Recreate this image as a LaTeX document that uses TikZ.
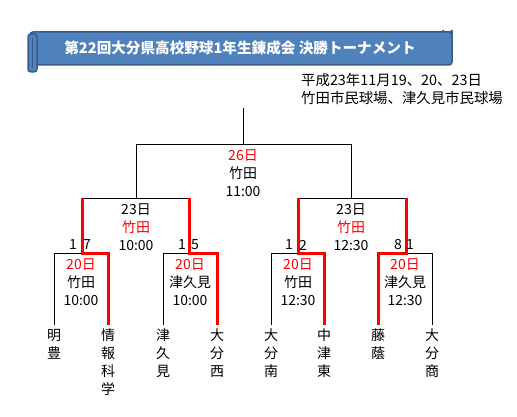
\documentclass[tikz,border=0pt]{standalone}
\usepackage{fontspec}
\setmainfont{Noto Sans CJK JP}
\usetikzlibrary{positioning}
\definecolor{bannerblue}{HTML}{4F81BD}
\definecolor{bannerline}{HTML}{385D8A}

\begin{document}
\begin{tikzpicture}[x=1pt, y=-1pt,
    banner/.style={fill=bannerblue, draw=bannerline, line width=1.5pt, rounded corners=3pt},
    lose/.style={draw, line width=0.8pt},
    win/.style={draw=red, line width=3pt},
    info/.style={align=center, inner sep=0pt, font=\fontsize{14}{18}\selectfont},
    team/.style={anchor=north, align=center, inner sep=2pt, outer sep=2pt, font=\fontsize{14}{18}\selectfont},
    score/.style={inner sep=0pt, font=\fontsize{14}{18}\selectfont}
  ]
    \fill[white] (0,0) rectangle (517,417);
    \useasboundingbox (0,0) rectangle (517,417);
    % title scroll
    \draw[banner] (443,40) -- (443,28) arc (180:0:4.5) -- (452,40);
    \draw[banner] (30,32) rectangle (452,65);
    \draw[banner] (28,34) rectangle (37,72);
    \draw[bannerline, line width=1pt] (32,38) -- (32,68);
    \node[text=white, font=\bfseries\fontsize{14.6}{16}\selectfont] (title) at (240,48) {第22回大分県高校野球1年生錬成会 決勝トーナメント};
    \node[anchor=north west, align=left, inner sep=0pt, font=\fontsize{14.4}{18}\selectfont] (date) at (301,73) {平成23年11月19、20、23日\\竹田市民球場、津久見市民球場};
    % teams
    \node[team] (meiho) at (54,325) {明\\豊};
    \node[team] (joho) at (108,325) {情\\報\\科\\学};
    \node[team] (tsukumi) at (163,325) {津\\久\\見};
    \node[team] (oitanishi) at (217,325) {大\\分\\西};
    \node[team] (oitaminami) at (271,325) {大\\分\\南};
    \node[team] (nakatsuhigashi) at (324,325) {中\\津\\東};
    \node[team] (toin) at (378,325) {藤\\蔭};
    \node[team] (oitasho) at (432,325) {大\\分\\商};
    % bracket points
    \coordinate (r1) at (82,253);
    \coordinate (r2) at (189,253);
    \coordinate (r3) at (298,253);
    \coordinate (r4) at (406,253);
    \coordinate (s1) at (136,198);
    \coordinate (s2) at (351,198);
    \coordinate (f) at (243,144);
    \coordinate (top) at (243,108);
    \draw[lose] (meiho.north) |- (r1);
    \draw[lose] (tsukumi.north) |- (r2);
    \draw[lose] (oitaminami.north) |- (r3);
    \draw[lose] (oitasho.north) |- (r4);
    \draw[lose] (r1 |- s1) -- (r2 |- s1);
    \draw[lose] (r3 |- s2) -- (r4 |- s2);
    \draw[lose] (s1) |- (f);
    \draw[lose] (s2) |- (f);
    \draw[lose] (f) -- (top);
    \draw[win] (joho.north) |- (r1) -- (r1 |- s1);
    \draw[win] (oitanishi.north) |- (r2) -- (r2 |- s1);
    \draw[win] (nakatsuhigashi.north) |- (r3) -- (r3 |- s2);
    \draw[win] (toin.north) |- (r4) -- (r4 |- s2);
    % games
    \node[info] (final) at (243,173) {\textcolor{red}{26日}\\竹田\\11:00};
    \node[info] (semi1) at (136,227) {23日\\\textcolor{red}{竹田}\\10:00};
    \node[info] (semi2) at (351,227) {23日\\\textcolor{red}{竹田}\\12:30};
    \node[info] (game1) at (81,282) {\textcolor{red}{20日}\\竹田\\10:00};
    \node[info] (game2) at (190,282) {\textcolor{red}{20日}\\津久見\\10:00};
    \node[info] (game3) at (298,282) {\textcolor{red}{20日}\\竹田\\12:30};
    \node[info] (game4) at (405,282) {\textcolor{red}{20日}\\津久見\\12:30};
    % scores
    \node[score] (sc1a) at (73,245) {1};
    \node[score] (sc1b) at (87,245) {7};
    \node[score] (sc2a) at (182,245) {1};
    \node[score] (sc2b) at (195,245) {5};
    \node[score] (sc3a) at (289,245) {1};
    \node[score] (sc3b) at (303,245) {2};
    \node[score] (sc4a) at (398,245) {8};
    \node[score] (sc4b) at (410,245) {1};
  \end{tikzpicture}
\end{document}
